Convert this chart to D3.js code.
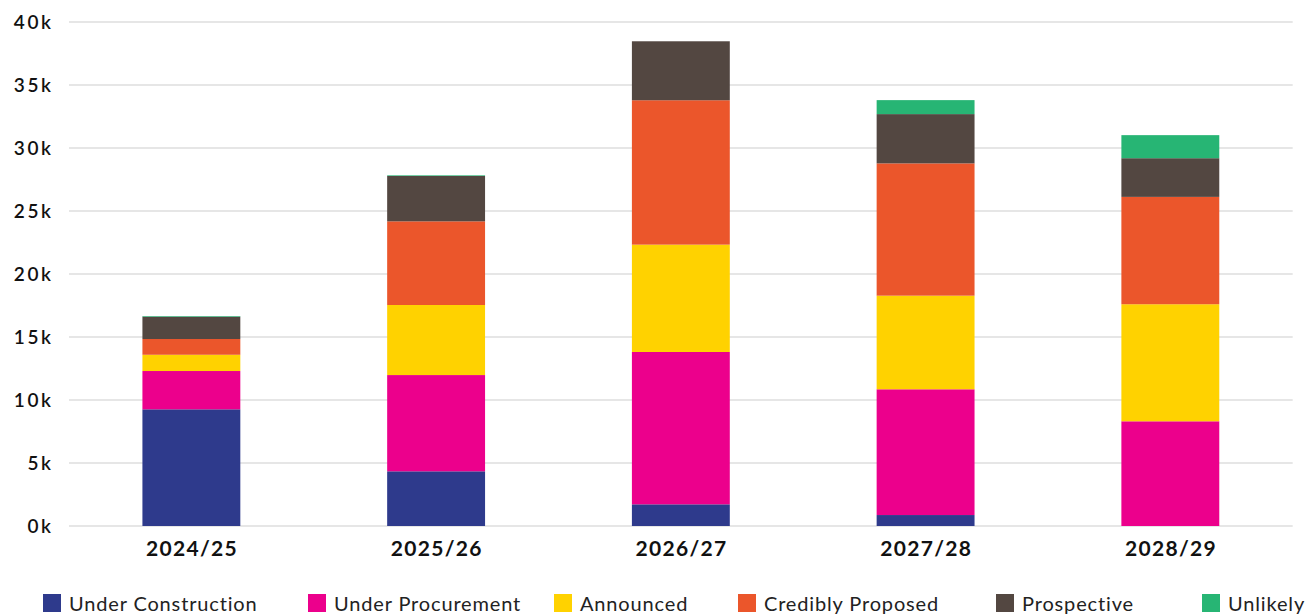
<!DOCTYPE html>
<html>
<head>
<meta charset="utf-8">
<script src="https://cdn.jsdelivr.net/npm/d3@7"></script>
<style>
  html, body { margin: 0; padding: 0; background: #fff; }
  svg { display: block; }
  text { font-family: "Lato", "Noto Sans", sans-serif; }
</style>
</head>
<body>
<svg id="chart" width="1315" height="616"></svg>
<script>
const categories = ["2024/25", "2025/26", "2026/27", "2027/28", "2028/29"];
const seriesNames = ["Under Construction", "Under Procurement", "Announced", "Credibly Proposed", "Prospective", "Unlikely"];
const underConstruction = [9.26, 4.34, 1.72, 0.87, 0];
const underProcurement  = [3.04, 7.64, 12.09, 9.98, 8.31];
const announced         = [1.29, 5.56, 8.52, 7.43, 9.29];
const crediblyProposed  = [1.25, 6.64, 11.46, 10.5, 8.52];
const prospective       = [1.77, 3.60, 4.68, 3.91, 3.07];
const unlikely          = [0.05, 0.05, 0, 1.11, 1.83];
const yTicks = [0, 5, 10, 15, 20, 25, 30, 35, 40];
const yTickLabels = ["0k", "5k", "10k", "15k", "20k", "25k", "30k", "35k", "40k"];
const colors = ["#2e3a8c", "#ec008c", "#ffd200", "#eb562b", "#534741", "#27b574"];

const seriesValues = [underConstruction, underProcurement, announced, crediblyProposed, prospective, unlikely];
const rows = categories.map((c, i) => {
  const r = { category: c };
  seriesNames.forEach((s, j) => r[s] = seriesValues[j][i]);
  return r;
});

const svg = d3.select("#chart");
const plotLeft = 69, plotRight = 1292.7, plotTop = 22, plotBottom = 526;

const x = d3.scaleBand().domain(categories).range([plotLeft, plotRight]).paddingInner(0.6).paddingOuter(0.3);
const y = d3.scaleLinear().domain([0, 40]).range([plotBottom, plotTop]);

// gridlines
svg.append("g").selectAll("line").data(yTicks).join("line")
  .attr("x1", plotLeft).attr("x2", plotRight)
  .attr("y1", d => y(d)).attr("y2", d => y(d))
  .attr("stroke", "#dedede").attr("stroke-width", 1.6);

// y labels
const ySpacing = 2.6;
const yAxis = d3.axisLeft(y).tickValues(yTicks).tickFormat((d, i) => yTickLabels[i]).tickSize(0).tickPadding(0);
const yg = svg.append("g").attr("transform", `translate(${51 + ySpacing},0)`).call(yAxis);
yg.select(".domain").remove();
yg.selectAll("text").attr("font-size", 19).attr("font-weight", 600).attr("fill", "#111")
  .attr("letter-spacing", ySpacing)
  .attr("font-family", "Lato, 'Noto Sans', sans-serif").attr("dy", "0.36em");

// bars
const stack = d3.stack().keys(seriesNames);
const stacked = stack(rows);
svg.append("g").selectAll("g").data(stacked).join("g")
  .attr("fill", (d, i) => colors[i])
  .selectAll("rect").data(d => d).join("rect")
  .attr("x", d => x(d.data.category))
  .attr("width", x.bandwidth())
  .attr("y", d => y(d[1]))
  .attr("height", d => Math.max(0, y(d[0]) - y(d[1])));

// x labels
const xSpacing = 1.3;
const xAxis = d3.axisBottom(x).tickSize(0).tickPadding(0);
const xg = svg.append("g").attr("transform", `translate(${xSpacing / 2},${plotBottom})`).call(xAxis);
xg.select(".domain").remove();
xg.selectAll("text").attr("font-size", 21).attr("font-weight", 700).attr("fill", "#111")
  .attr("letter-spacing", xSpacing)
  .attr("font-family", "Lato, 'Noto Sans', sans-serif").attr("dy", "1.45em");

// legend
const legendX = [43, 308, 554, 738, 996, 1202];
const lg = svg.append("g").selectAll("g").data(seriesNames).join("g")
  .attr("transform", (d, i) => `translate(${legendX[i]},594)`);
lg.append("rect").attr("width", 18).attr("height", 18).attr("fill", (d, i) => colors[i]);
lg.append("text").attr("x", 26).attr("y", 17).text(d => d)
  .attr("font-size", 20).attr("font-weight", 400).attr("fill", "#222")
  .attr("letter-spacing", 0.85);
</script>
</body>
</html>
